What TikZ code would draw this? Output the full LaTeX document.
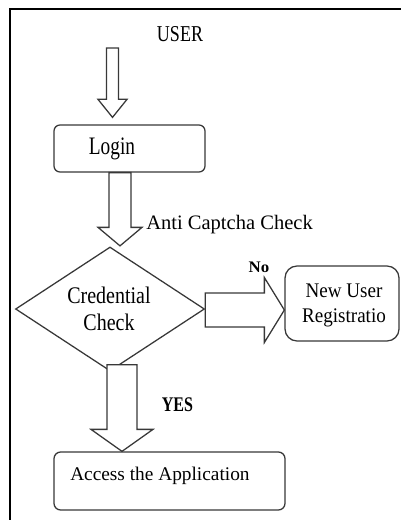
\documentclass[tikz,border=0pt]{standalone}
\usepackage{fontspec}
\usepackage{graphicx}
\setmainfont{Liberation Serif}
\usetikzlibrary{calc,shapes.geometric}
\newcommand{\tx}[3]{\fontsize{#1}{#1}\selectfont\scalebox{1}[#2]{#3}}
\newcommand{\vblock}[5]{%
  \draw[blockarrow] let \p1=(#1), \p2=(#2) in
    (\x1-#3*0.75pt,\y1) -- (\x1-#3*0.75pt,\y2+#5*0.75pt) -- (\x2-#4*0.75pt,\y2+#5*0.75pt)
    -- (\x2,\y2) -- (\x2+#4*0.75pt,\y2+#5*0.75pt) -- (\x1+#3*0.75pt,\y2+#5*0.75pt)
    -- (\x1+#3*0.75pt,\y1) -- cycle;}
\newcommand{\hblock}[5]{%
  \draw[blockarrow] let \p1=(#1), \p2=(#2) in
    (\x1,\y1+#3*0.75pt) -- (\x2-#5*0.75pt,\y1+#3*0.75pt) -- (\x2-#5*0.75pt,\y2+#4*0.75pt)
    -- (\x2,\y2) -- (\x2-#5*0.75pt,\y2-#4*0.75pt) -- (\x2-#5*0.75pt,\y1-#3*0.75pt)
    -- (\x1,\y1-#3*0.75pt) -- cycle;}
\tikzset{
  blockarrow/.style={draw=black!78, fill=white, line width=0.95pt, line join=miter},
  boxnode/.style={draw=black!78, line width=0.95pt, fill=white, inner sep=0pt},
  lbl/.style={inner sep=0pt, text=black},
}
\begin{document}
\begin{tikzpicture}[x=0.75pt,y=-0.75pt]
\useasboundingbox (0,0) rectangle (401,520);
% frame
\draw[line width=1.6pt, black] (10,520) -- (10,9) -- (401,9);

% boxes
\node[boxnode, rounded corners=4.5pt, minimum width=113.25pt, minimum height=35.25pt] (login) at (129.5,148.5) {};
\node[boxnode, diamond, minimum width=141.75pt, minimum height=93pt] (diam) at (110,309) {};
\node[boxnode, rounded corners=9pt, minimum width=85.5pt, minimum height=56.25pt] (nu) at (342,303.5) {};
\node[boxnode, rounded corners=5pt, minimum width=173.25pt, minimum height=43.5pt] (access) at (169.5,481) {};

% coordinates for arrow ends
\coordinate (u1) at (112.5,48);
\coordinate (u1t) at ($(login.north -| u1)+(0,-7)$);
\coordinate (a2s) at ($(login.south)+(-9.5,0)$);
\coordinate (a2t) at ($(diam.north -| a2s)+(0,-0.5)$);
\coordinate (a3s) at ($(diam.east)+(0,1)$);
\coordinate (a3t) at (nu.west |- a3s);
\coordinate (a4s) at ($(diam.south)+(12,-7)$);
\coordinate (a4t) at (access.north -| a4s);

% block arrows
\vblock{u1}{u1t}{6}{14.5}{18}
\vblock{a2s}{a2t}{11}{22}{18.5}
\hblock{a3s}{a3t}{17}{32.5}{20}
\vblock{a4s}{a4t}{15}{31}{22}

% texts
\node[lbl, anchor=base] (usertxt) at (180,42) {\tx{13.5}{1.26}{USER}};
\node[lbl, anchor=base] (logintxt) at (112,155) {\tx{14.5}{1.3}{Login}};
\node[lbl, anchor=base west] (acc) at (146,229) {\tx{15.4}{1}{Anti Captcha Check}};
\node[lbl, anchor=base] (credtxt) at (109,303) {\fontsize{15}{17.6}\selectfont\scalebox{1}[1.19]{\begin{tabular}[t]{@{}c@{}}Credential\\Check\end{tabular}}};
\node[lbl, anchor=base] (notxt) at (259,272) {\fontsize{11.5}{11.5}\selectfont\scalebox{1.1}[1.05]{\textbf{No}}};
\node[lbl, anchor=base] (nutxt) at (344,297) {\fontsize{14.3}{17.2}\selectfont\scalebox{1}[1.09]{\begin{tabular}[t]{@{}c@{}}New User\\Registratio\end{tabular}}};
\node[lbl, anchor=base] (yestxt) at (177.5,411) {\tx{12}{1.3}{\textbf{YES}}};
\node[lbl, anchor=base west] (acctxt) at (70,480) {\tx{14.5}{1}{Access the Application}};
\end{tikzpicture}
\end{document}
